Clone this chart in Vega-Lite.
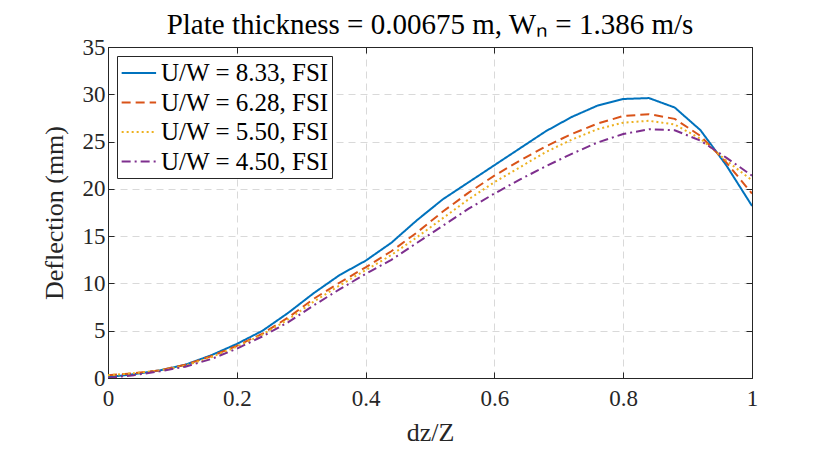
{
  "$schema": "https://vega.github.io/schema/vega-lite/v6.json",
  "autosize": "none",
  "width": 644,
  "height": 331,
  "padding": {"left": 108, "top": 47, "right": 78, "bottom": 79},
  "background": "white",
  "title": {"text": "Plate thickness = 0.00675 m, Wₙ = 1.386 m/s", "font": "Liberation Serif", "fontSize": 29, "fontWeight": "normal", "color": "#000", "offset": -4},
  "config": {
    "view": {"stroke": "#262626", "strokeWidth": 1},
    "axis": {"labelFont": "Liberation Serif", "titleFont": "Liberation Serif", "labelFontSize": 23, "titleFontSize": 26, "titleFontWeight": "normal", "labelColor": "#262626", "titleColor": "#262626", "domainColor": "#262626", "tickColor": "#262626", "tickSize": -6, "labelFlush": false, "gridColor": "#d9d9d9", "gridDash": [7, 5], "gridWidth": 1}
  },
  "data": {"values": [
    {"s":"U/W = 8.33, FSI","x":0,"y":0.1},{"s":"U/W = 8.33, FSI","x":0.04,"y":0.4},{"s":"U/W = 8.33, FSI","x":0.08,"y":0.8},{"s":"U/W = 8.33, FSI","x":0.12,"y":1.4},{"s":"U/W = 8.33, FSI","x":0.16,"y":2.4},{"s":"U/W = 8.33, FSI","x":0.2,"y":3.6},{"s":"U/W = 8.33, FSI","x":0.24,"y":5.0},{"s":"U/W = 8.33, FSI","x":0.28,"y":6.9},{"s":"U/W = 8.33, FSI","x":0.32,"y":9.0},{"s":"U/W = 8.33, FSI","x":0.36,"y":10.9},{"s":"U/W = 8.33, FSI","x":0.4,"y":12.4},{"s":"U/W = 8.33, FSI","x":0.44,"y":14.3},{"s":"U/W = 8.33, FSI","x":0.48,"y":16.7},{"s":"U/W = 8.33, FSI","x":0.52,"y":18.9},{"s":"U/W = 8.33, FSI","x":0.56,"y":20.7},{"s":"U/W = 8.33, FSI","x":0.6,"y":22.5},{"s":"U/W = 8.33, FSI","x":0.64,"y":24.3},{"s":"U/W = 8.33, FSI","x":0.68,"y":26.1},{"s":"U/W = 8.33, FSI","x":0.72,"y":27.6},{"s":"U/W = 8.33, FSI","x":0.76,"y":28.8},{"s":"U/W = 8.33, FSI","x":0.8,"y":29.5},{"s":"U/W = 8.33, FSI","x":0.84,"y":29.6},{"s":"U/W = 8.33, FSI","x":0.88,"y":28.6},{"s":"U/W = 8.33, FSI","x":0.92,"y":26.2},{"s":"U/W = 8.33, FSI","x":0.96,"y":22.5},{"s":"U/W = 8.33, FSI","x":1.0,"y":18.2},
    {"s":"U/W = 6.28, FSI","x":0,"y":0.3},{"s":"U/W = 6.28, FSI","x":0.04,"y":0.5},{"s":"U/W = 6.28, FSI","x":0.08,"y":0.8},{"s":"U/W = 6.28, FSI","x":0.12,"y":1.4},{"s":"U/W = 6.28, FSI","x":0.16,"y":2.3},{"s":"U/W = 6.28, FSI","x":0.2,"y":3.4},{"s":"U/W = 6.28, FSI","x":0.24,"y":4.7},{"s":"U/W = 6.28, FSI","x":0.28,"y":6.4},{"s":"U/W = 6.28, FSI","x":0.32,"y":8.4},{"s":"U/W = 6.28, FSI","x":0.36,"y":10.1},{"s":"U/W = 6.28, FSI","x":0.4,"y":11.7},{"s":"U/W = 6.28, FSI","x":0.44,"y":13.4},{"s":"U/W = 6.28, FSI","x":0.48,"y":15.4},{"s":"U/W = 6.28, FSI","x":0.52,"y":17.6},{"s":"U/W = 6.28, FSI","x":0.56,"y":19.6},{"s":"U/W = 6.28, FSI","x":0.6,"y":21.4},{"s":"U/W = 6.28, FSI","x":0.64,"y":23.0},{"s":"U/W = 6.28, FSI","x":0.68,"y":24.5},{"s":"U/W = 6.28, FSI","x":0.72,"y":25.8},{"s":"U/W = 6.28, FSI","x":0.76,"y":26.9},{"s":"U/W = 6.28, FSI","x":0.8,"y":27.7},{"s":"U/W = 6.28, FSI","x":0.84,"y":27.9},{"s":"U/W = 6.28, FSI","x":0.88,"y":27.4},{"s":"U/W = 6.28, FSI","x":0.92,"y":25.6},{"s":"U/W = 6.28, FSI","x":0.96,"y":22.8},{"s":"U/W = 6.28, FSI","x":1.0,"y":19.5},
    {"s":"U/W = 5.50, FSI","x":0,"y":0.3},{"s":"U/W = 5.50, FSI","x":0.04,"y":0.5},{"s":"U/W = 5.50, FSI","x":0.08,"y":0.8},{"s":"U/W = 5.50, FSI","x":0.12,"y":1.3},{"s":"U/W = 5.50, FSI","x":0.16,"y":2.2},{"s":"U/W = 5.50, FSI","x":0.2,"y":3.3},{"s":"U/W = 5.50, FSI","x":0.24,"y":4.6},{"s":"U/W = 5.50, FSI","x":0.28,"y":6.2},{"s":"U/W = 5.50, FSI","x":0.32,"y":8.1},{"s":"U/W = 5.50, FSI","x":0.36,"y":9.8},{"s":"U/W = 5.50, FSI","x":0.4,"y":11.4},{"s":"U/W = 5.50, FSI","x":0.44,"y":13.0},{"s":"U/W = 5.50, FSI","x":0.48,"y":14.9},{"s":"U/W = 5.50, FSI","x":0.52,"y":16.9},{"s":"U/W = 5.50, FSI","x":0.56,"y":18.9},{"s":"U/W = 5.50, FSI","x":0.6,"y":20.7},{"s":"U/W = 5.50, FSI","x":0.64,"y":22.3},{"s":"U/W = 5.50, FSI","x":0.68,"y":23.9},{"s":"U/W = 5.50, FSI","x":0.72,"y":25.2},{"s":"U/W = 5.50, FSI","x":0.76,"y":26.3},{"s":"U/W = 5.50, FSI","x":0.8,"y":27.0},{"s":"U/W = 5.50, FSI","x":0.84,"y":27.2},{"s":"U/W = 5.50, FSI","x":0.88,"y":26.8},{"s":"U/W = 5.50, FSI","x":0.92,"y":25.3},{"s":"U/W = 5.50, FSI","x":0.96,"y":23.0},{"s":"U/W = 5.50, FSI","x":1.0,"y":20.9},
    {"s":"U/W = 4.50, FSI","x":0,"y":0.0},{"s":"U/W = 4.50, FSI","x":0.04,"y":0.3},{"s":"U/W = 4.50, FSI","x":0.08,"y":0.7},{"s":"U/W = 4.50, FSI","x":0.12,"y":1.2},{"s":"U/W = 4.50, FSI","x":0.16,"y":2.0},{"s":"U/W = 4.50, FSI","x":0.2,"y":3.1},{"s":"U/W = 4.50, FSI","x":0.24,"y":4.4},{"s":"U/W = 4.50, FSI","x":0.28,"y":5.9},{"s":"U/W = 4.50, FSI","x":0.32,"y":7.7},{"s":"U/W = 4.50, FSI","x":0.36,"y":9.4},{"s":"U/W = 4.50, FSI","x":0.4,"y":11.0},{"s":"U/W = 4.50, FSI","x":0.44,"y":12.5},{"s":"U/W = 4.50, FSI","x":0.48,"y":14.3},{"s":"U/W = 4.50, FSI","x":0.52,"y":16.1},{"s":"U/W = 4.50, FSI","x":0.56,"y":17.9},{"s":"U/W = 4.50, FSI","x":0.6,"y":19.5},{"s":"U/W = 4.50, FSI","x":0.64,"y":21.0},{"s":"U/W = 4.50, FSI","x":0.68,"y":22.4},{"s":"U/W = 4.50, FSI","x":0.72,"y":23.7},{"s":"U/W = 4.50, FSI","x":0.76,"y":24.9},{"s":"U/W = 4.50, FSI","x":0.8,"y":25.8},{"s":"U/W = 4.50, FSI","x":0.84,"y":26.3},{"s":"U/W = 4.50, FSI","x":0.88,"y":26.2},{"s":"U/W = 4.50, FSI","x":0.92,"y":25.1},{"s":"U/W = 4.50, FSI","x":0.96,"y":23.3},{"s":"U/W = 4.50, FSI","x":1.0,"y":21.4}
  ]},
  "layer": [
    {
      "mark": {"type": "line", "strokeWidth": 2, "clip": true},
      "encoding": {
        "x": {"field": "x", "type": "quantitative", "scale": {"domain": [0, 1], "nice": false}, "axis": {"title": "dz/Z", "values": [0, 0.2, 0.4, 0.6, 0.8, 1], "format": "~g", "titlePadding": 9, "labelPadding": 15}},
        "y": {"field": "y", "type": "quantitative", "scale": {"domain": [0, 35], "nice": false}, "axis": {"title": "Deflection (mm)", "values": [0, 5, 10, 15, 20, 25, 30, 35], "titlePadding": 15, "labelPadding": 9}},
        "color": {"field": "s", "type": "nominal", "sort": ["U/W = 8.33, FSI", "U/W = 6.28, FSI", "U/W = 5.50, FSI", "U/W = 4.50, FSI"],
          "scale": {"domain": ["U/W = 8.33, FSI", "U/W = 6.28, FSI", "U/W = 5.50, FSI", "U/W = 4.50, FSI"], "range": ["#0072BD", "#D95319", "#EDB120", "#7E2F8E"]},
          "legend": {"title": null, "orient": "none", "legendX": 9, "legendY": 9, "symbolType": "M-0.95,0H1.7", "symbolSize": 676, "symbolStrokeWidth": 2, "labelFont": "Liberation Serif", "labelFontSize": 25, "labelLimit": 400, "labelColor": "#000", "fillColor": "white", "strokeColor": "#262626", "padding": 3, "rowPadding": 2.5, "labelOffset": 13}},
        "strokeDash": {"field": "s", "type": "nominal", "sort": ["U/W = 8.33, FSI", "U/W = 6.28, FSI", "U/W = 5.50, FSI", "U/W = 4.50, FSI"],
          "scale": {"domain": ["U/W = 8.33, FSI", "U/W = 6.28, FSI", "U/W = 5.50, FSI", "U/W = 4.50, FSI"], "range": [[1, 0], [9, 5], [2, 3], [9, 4, 2, 4]]},
          "legend": {"title": null, "orient": "none", "legendX": 9, "legendY": 9, "symbolType": "M-0.95,0H1.7", "symbolSize": 676, "symbolStrokeWidth": 2, "labelFont": "Liberation Serif", "labelFontSize": 25, "labelLimit": 400, "labelColor": "#000", "fillColor": "white", "strokeColor": "#262626", "padding": 3, "rowPadding": 2.5, "labelOffset": 13}}
      }
    },
    {
      "mark": {"type": "point", "opacity": 0},
      "encoding": {
        "x": {"field": "x", "type": "quantitative", "axis": {"orient": "top", "title": null, "labels": false, "grid": false, "values": [0, 0.2, 0.4, 0.6, 0.8, 1]}},
        "y": {"field": "y", "type": "quantitative", "axis": {"orient": "right", "title": null, "labels": false, "grid": false, "values": [0, 5, 10, 15, 20, 25, 30, 35]}}
      }
    }
  ],
  "resolve": {"axis": {"x": "independent", "y": "independent"}}
}
